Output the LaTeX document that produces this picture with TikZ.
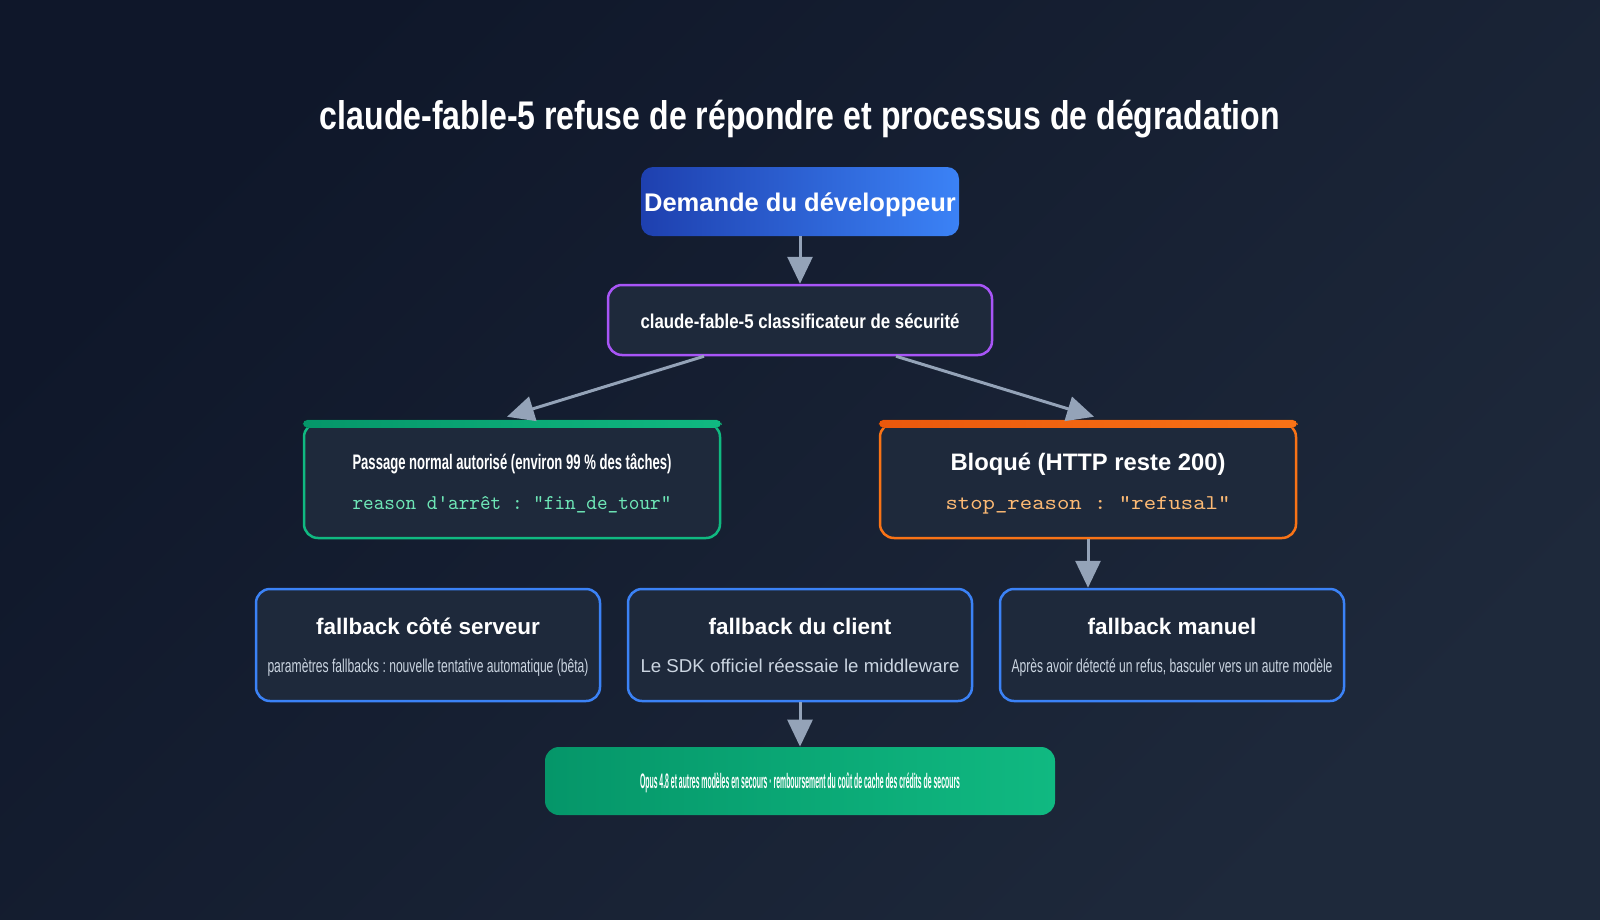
\documentclass[tikz,border=0pt]{standalone}
\usepackage{fontspec,graphicx}
\setmainfont{Liberation Sans}
\usetikzlibrary{arrows.meta,positioning}
\definecolor{bgA}{HTML}{0F172A}
\definecolor{bgB}{HTML}{1E293B}
\definecolor{panel}{HTML}{1E293B}
\definecolor{reqA}{HTML}{1E40AF}
\definecolor{reqB}{HTML}{3B82F6}
\definecolor{clfline}{HTML}{A855F7}
\definecolor{okA}{HTML}{059669}
\definecolor{okB}{HTML}{10B981}
\definecolor{okcode}{HTML}{6EE7B7}
\definecolor{blkA}{HTML}{EA580C}
\definecolor{blkB}{HTML}{F97316}
\definecolor{blkcode}{HTML}{FDBA74}
\definecolor{fbline}{HTML}{3B82F6}
\definecolor{subtxt}{HTML}{CBD5E1}
\definecolor{arrcol}{HTML}{94A3B8}
\newcommand{\fitto}[2]{\resizebox{#1}{\height}{#2}}
\newcommand{\fsz}[1]{\fontsize{#1}{1.2\dimexpr#1\relax}\selectfont}
\frenchspacing

\begin{document}
\begin{tikzpicture}[x=0.5pt,y=-0.5pt,
  card/.style={draw, line width=1.25pt, rounded corners=7pt, fill=panel, inner sep=0pt},
  txt/.style={anchor=base, inner sep=0pt, text=white},
  sub/.style={anchor=base, inner sep=0pt, text=subtxt, font=\fsz{9.3pt}},
  arr/.style={draw=arrcol, line width=1.5pt, -{Triangle[width=12.5pt,length=13.5pt]}}]

  \useasboundingbox (0,0) rectangle (1600,920);
  \fill[top color=bgA, bottom color=bgB, shading angle=45] (0,0) rectangle (1600,920);

  \node[txt, font=\bfseries\fsz{20pt}] (title) at (800,129)
    {\fitto{480pt}{claude-fable-5 refuse de répondre et processus de dégradation}};

  \node[rounded corners=6pt, left color=reqA, right color=reqB, inner sep=0pt,
    minimum width=159pt, minimum height=34.5pt] (req) at (800,201.5) {};
  \node[txt, font=\bfseries\fsz{12.75pt}] (reqtxt) at (800,211) {Demande du développeur};

  \node[card, draw=clfline, minimum width=192pt, minimum height=35pt] (clf) at (800,320) {};
  \node[txt, font=\bfseries\fsz{10pt}] (clftxt) at (800,328)
    {\fitto{159.5pt}{claude-fable-5 classificateur de sécurité}};

  \node[card, draw=okB, minimum width=208pt, minimum height=57.5pt] (ok) at (512,480.5) {};
  \fill[left color=okA, right color=okB, rounded corners=2.5pt]
    ([yshift=1pt]ok.north west) rectangle ([yshift=-3pt]ok.north east);
  \node[txt, font=\bfseries\fsz{10.5pt}] (oktitle) at (512,469)
    {\fitto{159.5pt}{Passage normal autorisé (environ 99 \% des tâches)}};
  \node[txt, text=okcode, font=\ttfamily\fsz{10.5pt}] (okcode) at (512,509)
    {\fitto{159.5pt}{reason d'arrêt : "fin\_de\_tour"}};

  \node[card, draw=blkB, minimum width=208pt, minimum height=57.5pt] (blk) at (1088,480.5) {};
  \fill[left color=blkA, right color=blkB, rounded corners=2.5pt]
    ([yshift=1pt]blk.north west) rectangle ([yshift=-3pt]blk.north east);
  \node[txt, font=\bfseries\fsz{11.9pt}] (blktitle) at (1088,470)
    {\fitto{137.5pt}{Bloqué (HTTP reste 200)}};
  \node[txt, text=blkcode, font=\ttfamily\fsz{10.5pt}] (blkcode) at (1088,509)
    {\fitto{142.5pt}{stop\_reason : "refusal"}};

  \node[card, draw=fbline, minimum width=172pt, minimum height=56pt] (srv) at (428,645) {};
  \node[txt, font=\bfseries\fsz{11.25pt}] (srvtitle) at (428,634) {fallback côté serveur};
  \node[sub] (srvsub) at (428,672)
    {\fitto{160.5pt}{paramètres fallbacks : nouvelle tentative automatique (bêta)}};

  \node[card, draw=fbline, minimum width=172pt, minimum height=56pt] (cli) at (800,645) {};
  \node[txt, font=\bfseries\fsz{11.25pt}] (clititle) at (800,634) {fallback du client};
  \node[sub] (clisub) at (800,672)
    {\fitto{159.5pt}{Le SDK officiel réessaie le middleware}};

  \node[card, draw=fbline, minimum width=172pt, minimum height=56pt] (man) at (1172,645) {};
  \node[txt, font=\bfseries\fsz{11.25pt}] (mantitle) at (1172,634) {fallback manuel};
  \node[sub] (mansub) at (1172,672)
    {\fitto{160.5pt}{Après avoir détecté un refus, basculer vers un autre modèle}};

  \node[rounded corners=7pt, left color=okA, right color=okB, inner sep=0pt,
    minimum width=255pt, minimum height=34pt] (fin) at (800,781) {};
  \node[txt, font=\bfseries\fsz{10.5pt}] (fintxt) at (800,788)
    {\fitto{160pt}{Opus 4.8 et autres modèles en secours · remboursement du coût de cache des crédits de secours}};

  \draw[arr] (req) -- (clf);
  \draw[arr] ([xshift=-48pt]clf.south) -- ([xshift=-2.5pt,yshift=2.5pt]ok.north);
  \draw[arr] ([xshift=48pt]clf.south) -- ([xshift=3pt,yshift=2.5pt]blk.north);
  \draw[arr] (blk.south) -- (blk.south |- man.north);
  \draw[arr] (cli) -- (fin);
\end{tikzpicture}
\end{document}
